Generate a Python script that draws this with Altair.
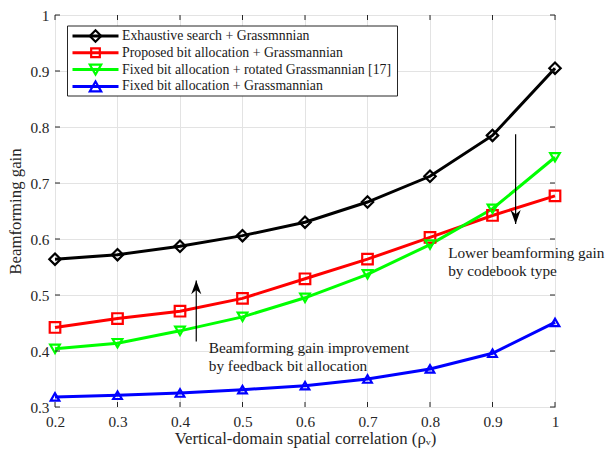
import altair as alt
import pandas as pd

# ---------------- data ----------------
x_vals = [0.2, 0.3, 0.4, 0.5, 0.6, 0.7, 0.8, 0.9, 1.0]
series_names = [
    "Exhaustive search + Grassmnnian",
    "Proposed bit allocation + Grassmannian",
    "Fixed bit allocation + rotated Grassmannian [17]",
    "Fixed bit allocation + Grassmannian",
]
exhaustive = [0.564, 0.572, 0.587, 0.606, 0.630, 0.666, 0.712, 0.785, 0.905]
proposed = [0.442, 0.458, 0.471, 0.494, 0.529, 0.564, 0.603, 0.642, 0.677]
fixed_rot = [0.404, 0.414, 0.436, 0.461, 0.495, 0.537, 0.590, 0.654, 0.746]
fixed = [0.318, 0.321, 0.325, 0.331, 0.338, 0.350, 0.368, 0.396, 0.451]
series_values = [exhaustive, proposed, fixed_rot, fixed]

colors = ["#000000", "#ff0000", "#00ff00", "#0000ff"]
shapes = ["diamond", "square", "triangle-down", "triangle-up"]
sizes = [130, 75, 130, 130]

x_ticks = [0.2, 0.3, 0.4, 0.5, 0.6, 0.7, 0.8, 0.9, 1.0]
y_ticks = [0.3, 0.4, 0.5, 0.6, 0.7, 0.8, 0.9, 1.0]

# annotations (data coordinates)
arrow_up = {"x": 0.426, "y_from": 0.417, "y_to": 0.526}
arrow_down = {"x": 0.937, "y_from": 0.787, "y_to": 0.627}
ann_text = [
    {"x": 0.446, "y": 0.405, "t": "Beamforming gain improvement"},
    {"x": 0.446, "y": 0.3725, "t": "by feedback bit allocation"},
    {"x": 0.829, "y": 0.5755, "t": "Lower beamforming gain"},
    {"x": 0.829, "y": 0.542, "t": "by codebook type"},
]

FONT = "'Liberation Serif', 'Times New Roman', Times, serif"
W, H = 500, 392
AX_FS = 15.3
TITLE_FS = 16.8
LEG_FS = 13.8

rows = []
for name, vals in zip(series_names, series_values):
    for xv, yv in zip(x_vals, vals):
        rows.append({"x": xv, "y": yv, "series": name})
df = pd.DataFrame(rows)

xs = alt.Scale(domain=[0.2, 1.0], nice=False, zero=False)
ys = alt.Scale(domain=[0.3, 1.0], nice=False, zero=False)

X = alt.X("x:Q", scale=xs,
          axis=alt.Axis(values=x_ticks, format=".1~f", grid=True, ticks=False, domain=False,
                        labelPadding=7, title="Vertical-domain spatial correlation (ρᵥ)",
                        titlePadding=1, labelFlush=False))
Y = alt.Y("y:Q", scale=ys,
          axis=alt.Axis(values=y_ticks, format=".1~f", grid=True, ticks=False, domain=False,
                        labelPadding=6, title="Beamforming gain", titlePadding=5))

color = alt.Color("series:N", scale=alt.Scale(domain=series_names, range=colors), legend=None)
shape = alt.Shape("series:N", scale=alt.Scale(domain=series_names, range=shapes), legend=None)
size = alt.Size("series:N", scale=alt.Scale(domain=series_names, range=sizes), legend=None)

base = alt.Chart(df)
lines = base.mark_line(strokeWidth=3).encode(x=X, y=Y, color=color, detail="series:N")
points = base.mark_point(filled=False, strokeWidth=2.2, opacity=1).encode(
    x="x:Q", y="y:Q", color=color, shape=shape, size=size)

# inward ticks
xt = pd.DataFrame({"x": x_ticks})
yt = pd.DataFrame({"y": y_ticks})
tick_col = "#262626"
xt_bottom = alt.Chart(xt).mark_rule(color=tick_col).encode(x="x:Q", y=alt.value(H), y2=alt.value(H - 5))
xt_top = alt.Chart(xt).mark_rule(color=tick_col).encode(x="x:Q", y=alt.value(0), y2=alt.value(5))
yt_left = alt.Chart(yt).mark_rule(color=tick_col).encode(y="y:Q", x=alt.value(0), x2=alt.value(5))
yt_right = alt.Chart(yt).mark_rule(color=tick_col).encode(y="y:Q", x=alt.value(W), x2=alt.value(W - 5))

# arrows
arr = pd.DataFrame([
    {"x": arrow_up["x"], "y": arrow_up["y_from"], "y2": arrow_up["y_to"]},
    {"x": arrow_down["x"], "y": arrow_down["y_from"], "y2": arrow_down["y_to"]},
])
shafts = alt.Chart(arr).mark_rule(color="black", strokeWidth=1.2).encode(x="x:Q", y="y:Q", y2="y2:Q")
head_up = alt.Chart(pd.DataFrame([{"x": arrow_up["x"], "y": arrow_up["y_to"]}])).mark_point(
    shape="M0,0L0.55,1.5L0,1.05L-0.55,1.5Z", size=340, filled=True, color="black", opacity=1
).encode(x="x:Q", y="y:Q")
head_down = alt.Chart(pd.DataFrame([{"x": arrow_down["x"], "y": arrow_down["y_to"]}])).mark_point(
    shape="M0,0L0.55,-1.5L0,-1.05L-0.55,-1.5Z", size=340, filled=True, color="black", opacity=1
).encode(x="x:Q", y="y:Q")

texts = alt.Chart(pd.DataFrame(ann_text)).mark_text(
    align="left", baseline="middle", font=FONT, fontSize=AX_FS, color="#1a1a1a"
).encode(x="x:Q", y="y:Q", text="t:N")

# legend (drawn manually, MATLAB style)
one = pd.DataFrame({"a": [0]})
leg_box = alt.Chart(one).mark_rect(fill="white", stroke="#262626", strokeWidth=1).encode(
    x=alt.value(12.5), x2=alt.value(342.5), y=alt.value(11), y2=alt.value(81))
leg_layers = [leg_box]
row_y = [21, 37.8, 54.6, 71.4]
for i, name in enumerate(series_names):
    leg_layers.append(alt.Chart(one).mark_rule(color=colors[i], strokeWidth=3).encode(
        x=alt.value(17.5), x2=alt.value(63.5), y=alt.value(row_y[i])))
    leg_layers.append(alt.Chart(one).mark_point(
        shape=shapes[i], size=sizes[i], filled=False, strokeWidth=2.2, color=colors[i], opacity=1
    ).encode(x=alt.value(40.5), y=alt.value(row_y[i])))
    leg_layers.append(alt.Chart(pd.DataFrame({"t": [name]})).mark_text(
        align="left", baseline="middle", font=FONT, fontSize=LEG_FS, color="#1a1a1a"
    ).encode(x=alt.value(67), y=alt.value(row_y[i]), text="t:N"))

chart = alt.layer(
    lines, points, xt_bottom, xt_top, yt_left, yt_right, shafts, head_up, head_down, texts,
    *leg_layers
).properties(
    width=W, height=H,
    autosize=alt.AutoSizeParams(type="none"),
    padding={"left": 55, "top": 15, "right": 52, "bottom": 48},
    background="white",
).configure_view(
    stroke="#262626", strokeWidth=1
).configure_axis(
    labelFont=FONT, titleFont=FONT, labelFontSize=AX_FS, titleFontSize=TITLE_FS,
    labelColor="#262626", titleColor="#262626", titleFontWeight="normal",
    gridColor="#e3e3e3", gridWidth=1,
)

chart.save("out.html", embed_options={"renderer": "svg", "actions": False})
